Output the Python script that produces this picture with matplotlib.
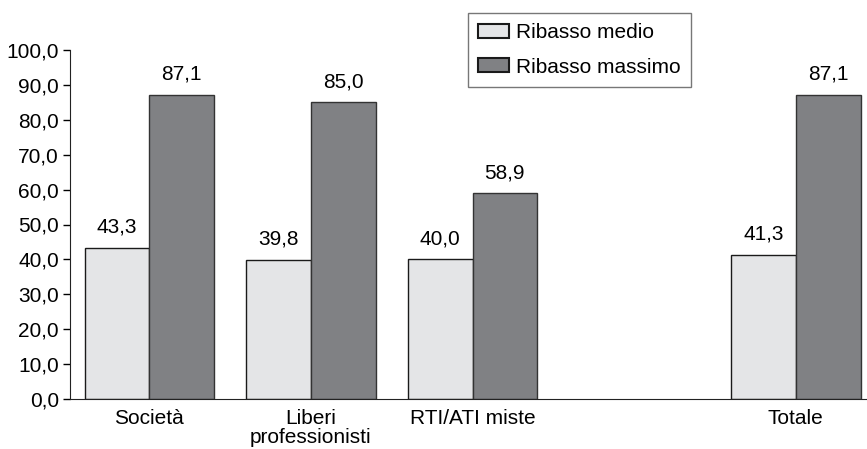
import numpy as np
import matplotlib.pyplot as plt
from matplotlib.patches import Patch

plt.rcParams['font.family'] = ['Liberation Sans', 'DejaVu Sans']
plt.rcParams['font.size'] = 15

categories = ["Società", "Liberi\nprofessionisti", "RTI/ATI miste", "", "Totale"]
ribasso_medio = [43.3, 39.8, 40.0, None, 41.3]
ribasso_massimo = [87.1, 85.0, 58.9, None, 87.1]
yticks = np.arange(0, 101, 10)

light = "#e4e5e7"
dark = "#808184"

fig = plt.figure(figsize=(8.67, 4.49), dpi=100)
ax = fig.add_axes([70 / 867, 1 - 399 / 449, 1 - 70 / 867, (399 - 50) / 449])

w = 0.4
for i, (m, mx) in enumerate(zip(ribasso_medio, ribasso_massimo)):
    if m is None:
        continue
    ax.bar(i - w / 2, m, w, color=light, edgecolor="#1a1a1a", linewidth=1)
    ax.bar(i + w / 2, mx, w, color=dark, edgecolor="#333333", linewidth=1)
    ax.annotate(f"{m:.1f}".replace(".", ","), (i - w / 2, m), xytext=(0, 8),
                textcoords="offset points", ha="center", va="bottom")
    ax.annotate(f"{mx:.1f}".replace(".", ","), (i + w / 2, mx), xytext=(0, 8),
                textcoords="offset points", ha="center", va="bottom")

ax.set_xlim(-0.49, 4.44)
ax.set_ylim(0, 100)
ax.set_yticks(yticks)
ax.set_yticklabels([f"{v:.1f}".replace(".", ",") for v in yticks])
ax.set_xticks(range(len(categories)))
ax.set_xticklabels(categories, linespacing=1.0)
ax.tick_params(axis="x", length=0, pad=7)
ax.tick_params(axis="y", length=5, width=1, pad=3)
for s in ["top", "right"]:
    ax.spines[s].set_visible(False)
ax.spines["left"].set_color("#222222")
ax.spines["bottom"].set_color("#222222")

handles = [Patch(facecolor=light, edgecolor="#1a1a1a", linewidth=1.5),
           Patch(facecolor=dark, edgecolor="#1a1a1a", linewidth=1.5)]
leg = fig.legend(handles, ["Ribasso medio", "Ribasso massimo"],
                 loc="upper left", bbox_to_anchor=(468 / 867, 1 - 13 / 449),
                 fancybox=False, frameon=True, edgecolor="#555555",
                 handlelength=1.45, handleheight=0.67, handletextpad=0.35,
                 borderpad=0.5, labelspacing=0.73, borderaxespad=0)
leg.get_frame().set_linewidth(1)

fig.savefig("out.png", dpi=100)
